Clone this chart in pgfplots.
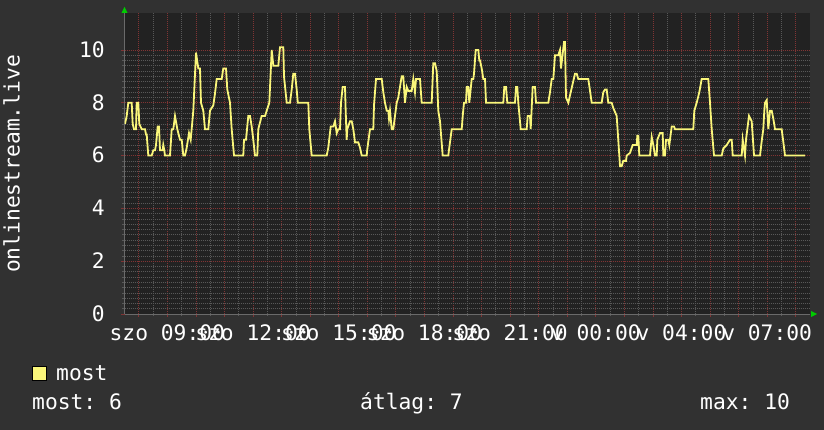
\documentclass[border=0pt]{standalone}
\usepackage{pgfplots}
\pgfplotsset{compat=1.18}
\usepackage{fontspec}
\setmainfont{DejaVu Sans Mono}
\definecolor{outerbg}{HTML}{313131}
\definecolor{plotbg}{HTML}{222222}
\definecolor{minorgrid}{HTML}{585858}
\definecolor{majorgrid}{HTML}{803434}
\definecolor{lineyellow}{RGB}{250,246,122}
\definecolor{arrowgreen}{HTML}{00CC00}
\definecolor{axisgray}{HTML}{6A6A6A}
\newcommand{\rrdfont}{\frenchspacing\fontsize{21.3}{24}\selectfont}
\begin{document}
\frenchspacing
\begin{tikzpicture}[x=1pt,y=1pt]
\fill[outerbg] (0,0) rectangle (824,430);
\begin{axis}[
  at={(124.5pt,116pt)}, anchor=south west,
  scale only axis, width=685.5pt, height=301pt,
  xmin=7.5, xmax=31.5, ymin=0, ymax=11.4,
  axis background/.style={fill=plotbg},
  axis lines*=left,
  axis line style={draw=axisgray, line width=0.6pt},
  xtick={8,...,31},
  xticklabels={,szo 09:00,,,szo 12:00,,,szo 15:00,,,szo 18:00,,,szo 21:00,,,v 00:00,,,v 04:00,,,v 07:00,},
  minor x tick num=1,
  ytick={0,2,...,10}, minor y tick num=9,
  grid=both,
  major grid style={draw=majorgrid, dash pattern=on 1pt off 1pt, line width=0.7pt},
  minor grid style={draw=minorgrid, dash pattern=on 1pt off 1pt, line width=0.7pt},
  tick align=outside, major tick length=3pt, minor tick length=2pt,
  major tick style={draw=majorgrid, line width=0.7pt},
  minor tick style={draw=minorgrid, line width=0.7pt},
  /pgf/number format/assume math mode=true,
  tick label style={font=\rrdfont, text=white, inner sep=0pt},
  xticklabel style={anchor=base, yshift=-23.5pt},
  yticklabel style={anchor=base east, xshift=-16.5pt, yshift=-7.3pt},
]
\addplot[color=lineyellow, line width=1.8pt, no markers, sharp plot] table {
t v
7.518 7.2
7.577 7.5
7.633 8
7.752 8
7.787 7.2
7.833 7
7.903 7
7.927 8
7.983 8
8.018 7.2
8.102 7
8.218 7
8.253 6.8
8.277 6.8
8.333 6
8.452 6
8.508 6.2
8.568 6.2
8.603 6.4
8.662 7.1
8.708 7.1
8.743 6.2
8.837 6.2
8.858 6.4
8.893 6.2
8.918 6
9.093 6
9.153 7
9.209 7
9.268 7.5
9.349 7
9.443 6.6
9.503 6.6
9.559 6
9.618 6
9.678 6.3
9.758 6.85
9.818 6.6
9.909 7.7
10.003 9.9
10.084 9.3
10.143 9.3
10.178 8
10.259 7.7
10.318 7
10.434 7
10.493 7.7
10.609 7.9
10.668 8.35
10.728 8.9
10.903 8.9
10.959 9.3
11.054 9.3
11.099 8.5
11.194 8
11.253 7
11.334 6
11.659 6
11.684 6.6
11.754 6.6
11.834 7.5
11.894 7.5
11.953 7.1
12.009 6.6
12.069 6
12.149 6
12.184 7
12.303 7.5
12.419 7.5
12.479 7.7
12.570 8
12.654 10
12.710 9.4
12.885 9.4
12.944 10.1
13.060 10.1
13.084 9
13.179 8
13.294 8
13.354 8.5
13.410 9.1
13.469 9.1
13.529 8.5
13.567 8
13.935 8
13.970 7
14.054 6
14.579 6
14.635 6.3
14.719 7.1
14.810 7.1
14.870 7.3
14.929 6.85
14.985 7
15.045 7
15.080 8
15.139 8.6
15.220 8.6
15.244 7.7
15.279 6.6
15.300 7
15.395 7.3
15.455 7.3
15.511 7
15.570 6.5
15.686 6.5
15.745 6.3
15.805 6
15.980 6
16.001 6.25
16.095 7
16.211 7
16.235 7.9
16.305 8.9
16.505 8.9
16.561 8.4
16.620 8
16.680 7.7
16.736 7.7
16.760 7.4
16.795 7.7
16.855 7
16.911 7
16.970 7.5
17.030 8
17.086 8.2
17.145 8.6
17.205 9
17.261 9
17.285 8.6
17.320 8
17.380 8.6
17.436 8.45
17.555 8.45
17.611 8.9
17.670 8.4
17.706 8.9
17.846 8.9
17.905 8
18.196 8
18.255 8
18.311 9.5
18.371 9.5
18.431 9.2
18.486 7.7
18.546 7.3
18.640 6
18.836 6
18.871 6.3
18.956 7
19.246 7
19.306 7
19.341 7.5
19.386 8
19.456 8
19.481 8.6
19.537 8.6
19.572 8
19.656 8.9
19.712 8.9
19.736 9.1
19.796 10
19.887 10
19.922 9.6
19.946 9.6
20.006 9.3
20.062 8.9
20.122 8.9
20.157 8
20.762 8
20.797 8.6
20.857 8.6
20.902 8
21.172 8
21.207 8.6
21.252 8.6
21.287 8
21.371 7
21.581 7
21.616 7.5
21.697 7.5
21.721 7
21.791 8.6
21.872 8.6
21.907 8
22.338 8
22.397 8.4
22.457 8.9
22.513 8.9
22.572 9.8
22.688 9.8
22.747 10
22.782 9.3
22.888 10.3
22.922 10.3
22.957 8.2
23.038 8
23.272 9.1
23.332 9.1
23.388 8.9
23.738 8.9
23.857 8
24.207 8
24.263 8.4
24.323 8.5
24.382 8.5
24.438 8
24.557 8
24.613 7.8
24.732 7.5
24.848 5.6
24.907 5.6
24.963 5.8
25.058 5.8
25.083 6
25.198 6.1
25.293 6.4
25.433 6.4
25.454 6.75
25.489 6.75
25.524 6
25.898 6
25.958 6.7
26.014 6.4
26.073 6
26.133 6
26.154 6.6
26.248 6.85
26.343 6.85
26.364 6
26.423 6
26.458 6.6
26.539 6.6
26.574 6.4
26.658 7.1
26.739 7.1
26.774 7
27.414 7
27.449 7.7
27.533 8
27.624 8.4
27.708 8.9
27.939 8.9
27.999 8
28.059 7
28.139 6
28.409 6
28.465 6.27
28.584 6.4
28.700 6.6
28.759 6.6
28.794 6
29.109 6
29.144 6.6
29.224 6
29.259 6.6
29.364 7.5
29.459 7.3
29.540 6
29.750 6
29.809 6.55
29.865 7
29.900 7.7
29.925 8
29.984 8.1
30.040 7
30.100 7.7
30.159 7.7
30.215 7.4
30.275 7
30.509 7
30.625 6
31.325 6
};
\end{axis}
\fill[arrowgreen] (121.5,417) -- (127.5,417) -- (124.5,423) -- cycle;
\fill[arrowgreen] (811,113) -- (811,119) -- (817,116) -- cycle;
\node[rotate=90, anchor=base, inner sep=0pt, text=white, font=\rrdfont] at (19.5,266) {onlinestream.live};
\filldraw[fill=lineyellow, draw=black, line width=0.8pt] (32.5,49.5) rectangle (46.5,63.5);
\node[anchor=base west, inner sep=0pt, text=white, font=\rrdfont] at (56,49) {most};
\node[anchor=base west, inner sep=0pt, text=white, font=\rrdfont] at (32,20) {most: 6};
\node[anchor=base west, inner sep=0pt, text=white, font=\rrdfont] at (360,20) {átlag: 7};
\node[anchor=base west, inner sep=0pt, text=white, font=\rrdfont] at (700,20) {max: 10};
\end{tikzpicture}
\end{document}
